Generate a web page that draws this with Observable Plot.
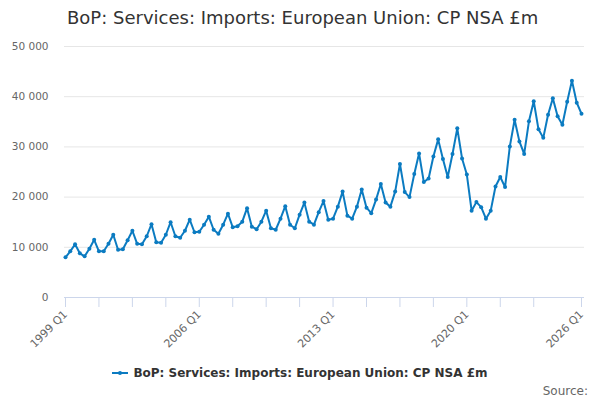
<!DOCTYPE html>
<html>
<head>
<meta charset="utf-8">
<script src="https://cdn.jsdelivr.net/npm/d3@7"></script>
<script src="https://cdn.jsdelivr.net/npm/@observablehq/plot@0.6"></script>
<style>
  body { margin: 0; background: #fff; }
  #wrap { position: relative; width: 600px; height: 400px; font-family: "DejaVu Sans", sans-serif; }
  #title { position: absolute; left: 67px; top: 7px; font-size: 18px; line-height: 21px; color: #333; white-space: nowrap; }
  #chart { position: absolute; left: 0; top: 40px; }
  #legend { position: absolute; left: 0; width: 600px; top: 366px; display: flex; justify-content: center; align-items: center; font-size: 12px; line-height: 14px; font-weight: bold; color: #333; }
  #legend svg { margin-right: 5px; }
  #source { position: absolute; right: 12px; top: 384px; font-size: 12px; line-height: 14px; color: #666; }
</style>
</head>
<body>
<div id="wrap">
  <div id="title">BoP: Services: Imports: European Union: CP NSA £m</div>
  <div id="chart"></div>
  <div id="legend"><svg width="16" height="10"><line x1="0" y1="5" x2="16" y2="5" stroke="#0b7bc1" stroke-width="2"/><circle cx="8" cy="5" r="2" fill="#0b7bc1"/></svg><span>BoP: Services: Imports: European Union: CP NSA £m</span></div>
  <div id="source">Source:</div>
</div>
<script>
const seriesName = "BoP: Services: Imports: European Union: CP NSA £m";
const firstYear = 1999;
const values = [
  8000, 9200, 10600, 8800,
  8200, 9700, 11500, 9200,
  9200, 10700, 12500, 9500,
  9600, 11400, 13300, 10700,
  10600, 12200, 14600, 11000,
  10900, 12500, 15000, 12200,
  11900, 13300, 15500, 13000,
  13100, 14500, 16100, 13500,
  12700, 14500, 16700, 14000,
  14200, 15100, 17800, 14100,
  13600, 15100, 17300, 13800,
  13500, 15700, 18200, 14500,
  13800, 16500, 18900, 15100,
  14500, 17000, 19200, 15500,
  15700, 18100, 21100, 16300,
  15700, 18100, 21500, 17900,
  16800, 19500, 22600, 18900,
  18100, 21100, 26600, 21000,
  20000, 24600, 28700, 23000,
  23700, 28100, 31500, 27600,
  24000, 28600, 33700, 27700,
  24500, 17300, 19000, 18000,
  15700, 17300, 22100, 24000,
  22000, 30100, 35400, 31100,
  28600, 35100, 39100, 33500,
  31800, 36400, 39700, 36100,
  34400, 39000, 43200, 38800,
  36600
];
const quarters = [];
for (let i = 0; i < values.length; i++) {
  quarters.push(`${firstYear + Math.floor(i / 4)} Q${(i % 4) + 1}`);
}
const labelTicks = ["1999 Q1", "2006 Q1", "2013 Q1", "2020 Q1", "2026 Q1"];
const minorTicks = ["1999 Q1","2000 Q4","2002 Q3","2004 Q2","2006 Q1","2007 Q4","2009 Q3","2011 Q2","2013 Q1","2014 Q4","2016 Q3","2018 Q2","2020 Q1","2021 Q4","2023 Q3","2026 Q1"];
const yTicks = [0, 10000, 20000, 30000, 40000, 50000];

const data = quarters.map((q, i) => ({q, v: values[i]}));
const color = "#0b7bc1";
const fmt = d => d3.format(",")(d).replace(/,/g, " ");

const chart = Plot.plot({
  width: 600,
  height: 320,
  marginLeft: 65,
  marginRight: 19,
  marginTop: 6,
  marginBottom: 63,
  style: {fontFamily: "DejaVu Sans", background: "transparent"},
  x: {type: "point", domain: quarters, padding: 0, axis: null},
  y: {domain: [0, 50000], axis: null},
  marks: [
    Plot.ruleY(yTicks.filter(d => d > 0), {stroke: "#e6e6e6", strokeWidth: 1, insetLeft: -1, insetRight: -3}),
    Plot.ruleY([0], {stroke: "#ccd6eb", strokeWidth: 1, insetLeft: -1, insetRight: -3}),
    Plot.axisY({ticks: yTicks, tickSize: 0, tickPadding: 17, tickFormat: fmt, fill: "#666", fontSize: 10.5, label: null}),
    Plot.axisX({ticks: minorTicks, tickSize: 10, stroke: "#ccd6eb", text: null, label: null}),
    Plot.axisX({ticks: labelTicks, tickSize: 0, tickPadding: 15, tickRotate: -45, fill: "#666", fontSize: 11, label: null}),
    Plot.line(data, {x: "q", y: "v", stroke: color, strokeWidth: 2}),
    Plot.dot(data, {x: "q", y: "v", r: 2, fill: color, stroke: null})
  ]
});
document.getElementById("chart").appendChild(chart);
</script>
</body>
</html>
